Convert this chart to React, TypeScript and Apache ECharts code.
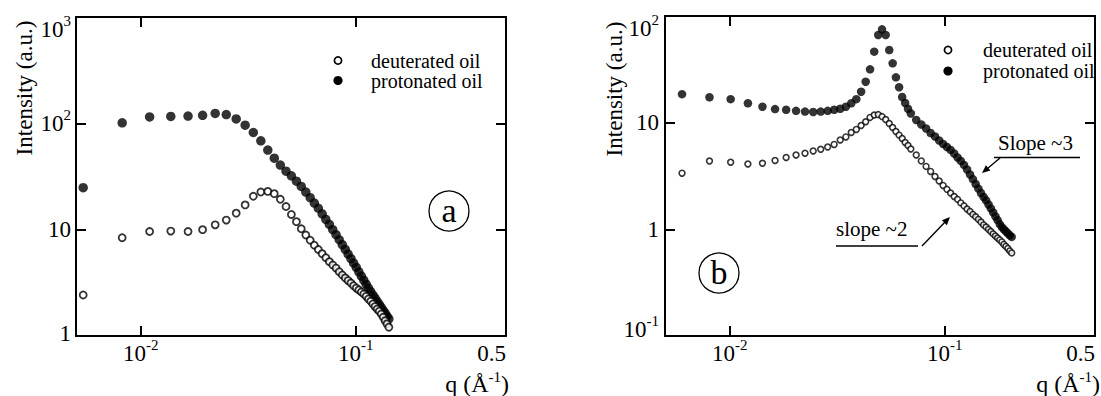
import { useEffect, useRef } from "react";
import * as echarts from "echarts";

// ---- (a) scattering curves ----
const qA = [
  0.0054, 0.0082, 0.011, 0.0138, 0.0166, 0.0194, 0.0222, 0.025, 0.0278, 0.0306,
  0.0334, 0.0362, 0.039, 0.0418, 0.0446, 0.0474, 0.0502, 0.053, 0.0558, 0.0586,
  0.0614, 0.0642, 0.067, 0.0698, 0.0726, 0.0754, 0.0782, 0.081, 0.0838, 0.0866,
  0.0894, 0.0922, 0.095, 0.0978, 0.1006, 0.1034, 0.1062, 0.109, 0.1118, 0.1146,
  0.1174, 0.1202, 0.123, 0.1258, 0.1286, 0.1314, 0.1342, 0.137, 0.1398, 0.1426,
];
const deuteratedA = [
  2.43, 8.4, 9.6, 9.7, 9.6, 10.0, 11.1, 12.3, 14.3, 17.1,
  20.6, 22.6, 22.9, 21.8, 19.3, 16.5, 13.9, 11.9, 10.2, 8.9,
  7.96, 7.14, 6.5, 5.95, 5.45, 5.0, 4.65, 4.35, 4.02, 3.75,
  3.52, 3.32, 3.15, 2.97, 2.82, 2.71, 2.59, 2.48, 2.36, 2.23,
  2.12, 2.0, 1.89, 1.79, 1.71, 1.61, 1.5, 1.39, 1.3, 1.21,
];
const protonatedA = [
  24.8, 101, 115, 116, 117, 119, 124, 121, 110, 96,
  82, 68.5, 56, 47, 40.5, 35.5, 32.1, 28.6, 25.5, 22.6,
  20.0, 17.8, 15.9, 14.1, 12.5, 11.2, 10.0, 8.98, 8.04, 7.22,
  6.52, 5.89, 5.35, 4.85, 4.41, 4.01, 3.66, 3.35, 3.07, 2.82,
  2.61, 2.43, 2.27, 2.12, 1.98, 1.86, 1.74, 1.64, 1.54, 1.45,
];

// ---- (b) scattering curves ----
const qB = [
  0.006, 0.00805, 0.0101, 0.01215, 0.0142, 0.01625, 0.0183, 0.02035, 0.0224, 0.02445,
  0.0265, 0.02855, 0.0306, 0.03265, 0.0347, 0.03675, 0.0388, 0.04085, 0.0429, 0.04495,
  0.047, 0.04905, 0.0511, 0.05315, 0.0552, 0.05725, 0.0593, 0.06135, 0.0634, 0.06545,
  0.0675, 0.06955, 0.0737, 0.0778, 0.0819, 0.086, 0.0901, 0.0942, 0.0983, 0.1024,
  0.1065, 0.1106, 0.1147, 0.1188, 0.1229, 0.127, 0.1311, 0.1352, 0.1393, 0.1434,
  0.1475, 0.1516, 0.1557, 0.1598, 0.1639, 0.168, 0.1721, 0.1762, 0.1803, 0.1844,
  0.1885, 0.1926, 0.1967, 0.2008, 0.2049,
];
const deuteratedB = [
  3.36, 4.37, 4.26, 4.1, 4.16, 4.42, 4.72, 4.98, 5.17, 5.43,
  5.63, 5.92, 6.25, 6.88, 7.35, 8.09, 8.64, 9.41, 10.2, 11.2,
  11.8, 11.9, 11.4, 10.7, 9.83, 9.02, 8.27, 7.64, 7.11, 6.52,
  6.11, 5.67, 4.98, 4.38, 3.89, 3.49, 3.13, 2.84, 2.58, 2.37,
  2.19, 2.03, 1.91, 1.77, 1.66, 1.55, 1.47, 1.38, 1.31, 1.24,
  1.17, 1.1, 1.05, 1.0, 0.955, 0.906, 0.867, 0.83, 0.796, 0.762,
  0.722, 0.692, 0.662, 0.628, 0.601,
];
const protonatedB = [
  18.5, 17.3, 16.6, 15.2, 14.1, 13.4, 13.2, 12.9, 12.7, 12.6,
  12.7, 12.9, 13.2, 13.5, 14.1, 15.2, 16.6, 19.5, 24.2, 31.6,
  46.3, 66.4, 75, 66.4, 48, 36, 26.6, 21.5, 17.4, 15.3,
  13.5, 12.2, 10.6, 9.62, 8.82, 8.0, 7.42, 6.81, 6.31, 5.92,
  5.55, 5.14, 4.72, 4.38, 4.02, 3.64, 3.27, 2.96, 2.66, 2.41,
  2.19, 2.01, 1.87, 1.71, 1.57, 1.44, 1.32, 1.22, 1.12, 1.05,
  1.0, 0.955, 0.916, 0.877, 0.849,
];

// ---- tick labels: [mantissa, exponent] ----
const xTickValues = [0.01, 0.1, 0.5];
const xTickLabels = [["10", "-2"], ["10", "-1"], ["0.5", ""]];
const yTickValuesA = [1, 10, 100, 1000];
const yTickLabelsA = [["1", ""], ["10", ""], ["10", "2"], ["10", "3"]];
const yTickValuesB = [0.1, 1, 10, 100];
const yTickLabelsB = [["10", "-1"], ["1", ""], ["10", ""], ["10", "2"]];

const SERIES_D = "deuterated oil";
const SERIES_P = "protonated oil";
const FONT = "'Liberation Serif', 'Times New Roman', serif";

const GRID_A = { left: 76, top: 17, width: 430, height: 319 };
const GRID_B = { left: 665, top: 16, width: 430, height: 320 };

const TICK_SIZE = 23;
const SUP_SIZE = 15;

const axisLine = { show: true, onZero: false, lineStyle: { color: "#000", width: 2 } };
const axisTick = { show: true, inside: true, length: 10, lineStyle: { color: "#000", width: 2 } };

function logAxis(gridIndex: number, min: number, max: number, position: string) {
  return {
    type: "log",
    logBase: 10,
    gridIndex,
    min,
    max,
    position,
    axisLine,
    axisTick,
    axisLabel: { show: false },
    splitLine: { show: false },
    minorTick: { show: false },
  };
}

const pairs = (q: number[], v: number[]) => q.map((x, i) => [x, v[i]]);

const openStyle = (border: number) => ({ color: "#fff", borderColor: "#000", borderWidth: border });
const filledStyle = { color: "#000" };

const baseOption = {
  animation: false,
  backgroundColor: "#fff",
  textStyle: { fontFamily: FONT },
  grid: [
    { ...GRID_A, outerBoundsMode: "none", containLabel: false },
    { ...GRID_B, outerBoundsMode: "none", containLabel: false },
  ],
  xAxis: [
    logAxis(0, 0.005, 0.5, "bottom"),
    logAxis(0, 0.005, 0.5, "top"),
    logAxis(1, 0.005, 0.5, "bottom"),
    logAxis(1, 0.005, 0.5, "top"),
  ],
  yAxis: [
    logAxis(0, 1, 1000, "left"),
    logAxis(0, 1, 1000, "right"),
    logAxis(1, 0.1, 100, "left"),
    logAxis(1, 0.1, 100, "right"),
  ],
  series: [
    {
      name: SERIES_P,
      type: "scatter",
      xAxisIndex: 0,
      yAxisIndex: 0,
      symbol: "circle",
      symbolSize: 9.5,
      itemStyle: filledStyle,
      data: pairs(qA, protonatedA),
    },
    {
      name: SERIES_D,
      type: "scatter",
      xAxisIndex: 0,
      yAxisIndex: 0,
      symbol: "circle",
      symbolSize: 7,
      itemStyle: openStyle(1.8),
      data: pairs(qA, deuteratedA),
    },
    {
      name: SERIES_P,
      type: "scatter",
      xAxisIndex: 2,
      yAxisIndex: 2,
      symbol: "circle",
      symbolSize: 8.5,
      itemStyle: filledStyle,
      data: pairs(qB, protonatedB),
    },
    {
      name: SERIES_D,
      type: "scatter",
      xAxisIndex: 2,
      yAxisIndex: 2,
      symbol: "circle",
      symbolSize: 5.8,
      itemStyle: openStyle(1.6),
      data: pairs(qB, deuteratedB),
    },
  ],
};

// ---- text measuring ----
let measureCtx: CanvasRenderingContext2D | null = null;
function textWidth(text: string, size: number) {
  if (!text) return 0;
  if (!measureCtx) measureCtx = document.createElement("canvas").getContext("2d");
  if (!measureCtx) return text.length * size * 0.5;
  measureCtx.font = `${size}px ${FONT}`;
  return measureCtx.measureText(text).width;
}

const plainText = (text: string, x: number, y: number, size: number, align = "left") => ({
  type: "text",
  x,
  y,
  silent: true,
  style: { text, fill: "#000", fontFamily: FONT, fontSize: size, align, verticalAlign: "middle" },
});

// A run of text pieces, each with its own size and raise, laid out left to right.
type Piece = { text: string; size: number; raise: number };
function textRun(pieces: Piece[], x: number, y: number, align: "left" | "center" | "right") {
  const widths = pieces.map((p) => textWidth(p.text, p.size));
  const total = widths.reduce((a, b) => a + b, 0);
  let left = align === "left" ? x : align === "center" ? x - total / 2 : x - total;
  const out: any[] = [];
  pieces.forEach((p, i) => {
    if (p.text) out.push(plainText(p.text, left, y - p.raise, p.size));
    left += widths[i];
  });
  return out;
}

const tickPieces = (label: string[]): Piece[] => [
  { text: label[0], size: TICK_SIZE, raise: 0 },
  { text: label[1], size: SUP_SIZE, raise: 8 },
];

const rotatedName = (text: string, x: number, y: number) => ({
  type: "text",
  x,
  y,
  rotation: Math.PI / 2,
  silent: true,
  style: { text, fill: "#000", fontFamily: FONT, fontSize: 23, align: "center", verticalAlign: "middle" },
});

const qName = (xRight: number, y: number) =>
  textRun(
    [
      { text: "q (Å", size: 24, raise: 0 },
      { text: "-1", size: 15, raise: 7 },
      { text: ")", size: 24, raise: 0 },
    ],
    xRight,
    y,
    "right"
  );

const circledLetter = (letter: string, cx: number, cy: number) => ({
  type: "group",
  children: [
    { type: "circle", shape: { cx, cy, r: 20 }, style: { fill: "none", stroke: "#000", lineWidth: 1.3 } },
    {
      type: "text",
      x: cx,
      y: cy - 1,
      style: { text: letter, fill: "#000", fontFamily: FONT, fontSize: 34, align: "center", verticalAlign: "middle" },
    },
  ],
});

const line = (x1: number, y1: number, x2: number, y2: number) => ({
  type: "line",
  shape: { x1, y1, x2, y2 },
  style: { stroke: "#000", lineWidth: 1.4 },
});

const arrowHead = (points: number[][]) => ({
  type: "polygon",
  shape: { points },
  style: { fill: "#000" },
});

const legendMarker = (cx: number, cy: number, filled: boolean) => ({
  type: "circle",
  shape: { cx, cy, r: filled ? 4.6 : 3.6 },
  style: filled ? { fill: "#000" } : { fill: "#fff", stroke: "#000", lineWidth: 1.7 },
});

function legendBlock(markerX: number, textX: number, y1: number, y2: number) {
  return [
    legendMarker(markerX, y1, false),
    plainText(SERIES_D, textX, y1, 20),
    legendMarker(markerX, y2, true),
    plainText(SERIES_P, textX, y2, 20),
  ];
}

function axisLabels(chart: echarts.ECharts) {
  const out: any[] = [];
  const panels = [
    { grid: GRID_A, x: 0, y: 0, yv: yTickValuesA, yl: yTickLabelsA, margin: 5, minShift: -3 },
    { grid: GRID_B, x: 2, y: 2, yv: yTickValuesB, yl: yTickLabelsB, margin: 6, minShift: -7 },
  ];
  panels.forEach((p) => {
    const bottom = p.grid.top + p.grid.height;
    const right = p.grid.left + p.grid.width;
    xTickValues.forEach((v, i) => {
      const px = chart.convertToPixel({ xAxisIndex: p.x }, v) as number;
      const isLast = i === xTickValues.length - 1;
      out.push(...textRun(tickPieces(xTickLabels[i]), isLast ? right : px, bottom + 17, isLast ? "right" : "center"));
    });
    p.yv.forEach((v, i) => {
      const py = chart.convertToPixel({ yAxisIndex: p.y }, v) as number;
      const isLast = i === p.yv.length - 1;
      const isFirst = i === 0;
      const y = isLast ? py + 12 : isFirst ? py + p.minShift : py;
      out.push(...textRun(tickPieces(p.yl[i]), p.grid.left - p.margin, y, "right"));
    });
  });
  return out;
}

function buildGraphics(chart: echarts.ECharts) {
  return [
    rotatedName("Intensity (a.u.)", 24, 88),
    rotatedName("Intensity (a.u.)", 614, 89),
    ...qName(509, 384),
    ...qName(1100, 384),
    ...legendBlock(338, 371, 60.5, 80.5),
    { type: "rect", shape: { x: 978, y: 39, width: 121, height: 43 }, style: { fill: "#fff" } },
    ...legendBlock(948, 983, 50, 71),
    circledLetter("a", 449, 211),
    circledLetter("b", 719, 273),
    plainText("Slope ~3", 998, 143, 21),
    line(994, 157.5, 1080, 157.5),
    line(1000, 158, 986, 169.7),
    arrowHead([[982, 173], [990.4, 170.6], [985.9, 165.2]]),
    plainText("slope ~2", 836, 229, 21),
    line(836, 246, 918, 246),
    line(922, 246, 946.5, 220.6),
    arrowHead([[950, 217], [946.9, 225.2], [941.9, 220.3]]),
    ...axisLabels(chart),
  ];
}

export default function App() {
  const ref = useRef<HTMLDivElement>(null);
  useEffect(() => {
    if (!ref.current) return;
    const chart = echarts.init(ref.current, null, { renderer: "svg" });
    chart.setOption(baseOption as any);
    chart.setOption({ graphic: buildGraphics(chart) } as any);
    return () => chart.dispose();
  }, []);
  return (
    <div
      ref={ref}
      style={{ position: "fixed", left: 0, top: 0, width: 1101, height: 396, background: "#fff" }}
    />
  );
}
